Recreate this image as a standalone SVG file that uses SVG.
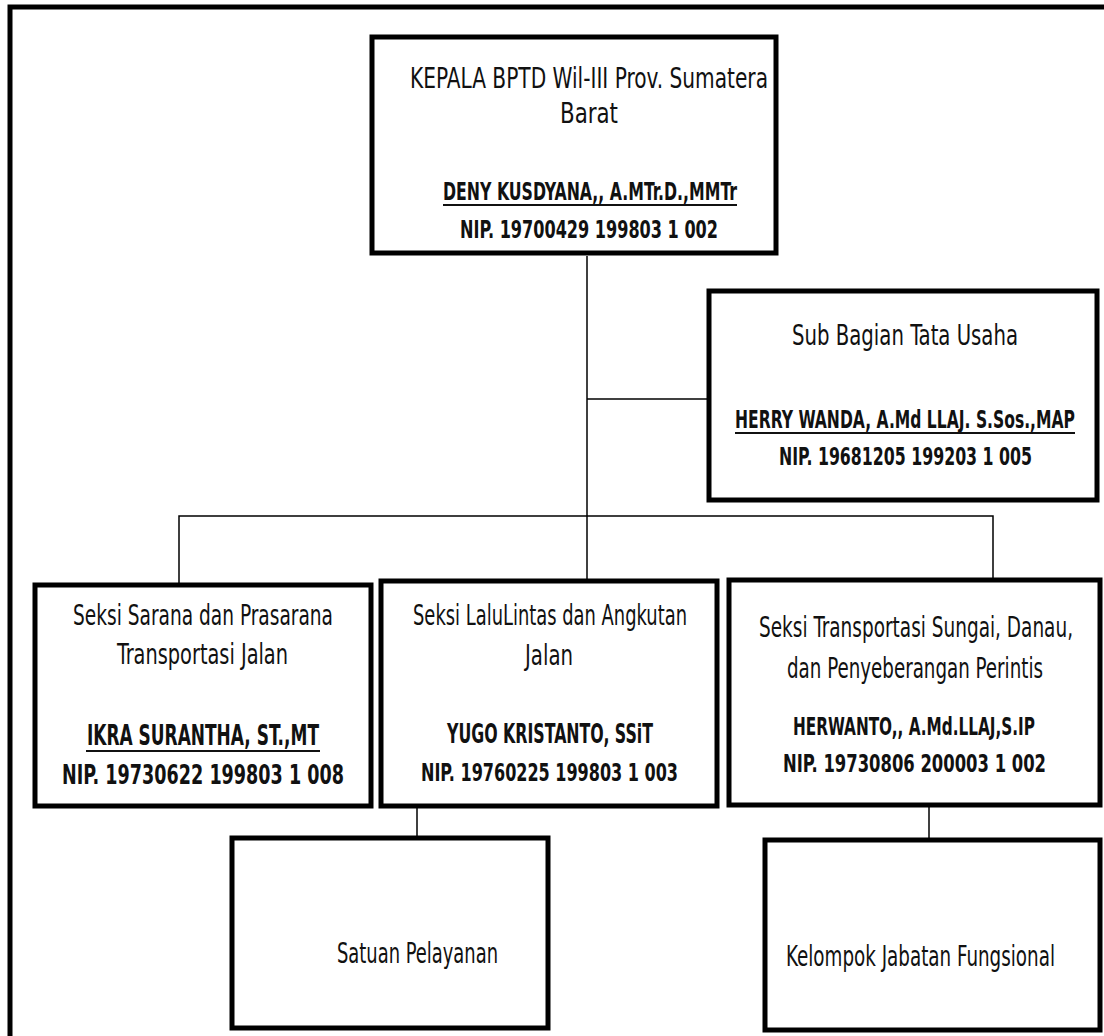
<svg xmlns="http://www.w3.org/2000/svg" width="1104" height="1036" viewBox="0 0 1104 1036">
<style>
.box{fill:#fff;stroke:#000;stroke-width:5}
.frame{fill:none;stroke:#000;stroke-width:5}
.ln{fill:none;stroke:#000;stroke-width:1.5}
.t{font-family:"Liberation Sans Narrow","DejaVu Sans Condensed","Liberation Sans",sans-serif;fill:#111}
.b{font-weight:bold}
.ul{fill:none;stroke:#111;stroke-width:2}
</style>
<rect x="0" y="0" width="1104" height="1036" fill="#fff"/>
<rect class="frame" x="10" y="7" width="1110" height="1050"/>
<g id="connectors">
<line class="ln" x1="587" y1="256" x2="587" y2="580"/>
<line class="ln" x1="587" y1="399" x2="709" y2="399"/>
<polyline class="ln" points="179,585 179,516 993,516 993,580"/>
<line class="ln" x1="417" y1="806" x2="417" y2="838"/>
<line class="ln" x1="929" y1="805" x2="929" y2="840"/>
</g>
<g id="kepala">
<rect class="box" x="372" y="37" width="404" height="216"/>
<text class="t" x="410" y="88" font-size="29" textLength="358" lengthAdjust="spacingAndGlyphs">KEPALA BPTD Wil-III Prov. Sumatera</text>
<text class="t" x="560" y="123" font-size="29" textLength="58" lengthAdjust="spacingAndGlyphs">Barat</text>
<text class="t b" x="443" y="200" font-size="24" textLength="294" lengthAdjust="spacingAndGlyphs">DENY KUSDYANA,, A.MTr.D.,MMTr</text>
<line class="ul" x1="443" y1="205" x2="737" y2="205"/>
<text class="t b" x="460" y="238" font-size="24" textLength="258" lengthAdjust="spacingAndGlyphs">NIP. 19700429 199803 1 002</text>
</g>
<g id="tatausaha">
<rect class="box" x="709" y="291" width="388" height="209"/>
<text class="t" x="792" y="345" font-size="29" textLength="226" lengthAdjust="spacingAndGlyphs">Sub Bagian Tata Usaha</text>
<text class="t b" x="735" y="428" font-size="24" textLength="340" lengthAdjust="spacingAndGlyphs">HERRY WANDA, A.Md LLAJ. S.Sos.,MAP</text>
<line class="ul" x1="735" y1="433" x2="1075" y2="433"/>
<text class="t b" x="779" y="465" font-size="24" textLength="253" lengthAdjust="spacingAndGlyphs">NIP. 19681205 199203 1 005</text>
</g>
<g id="seksi1">
<rect class="box" x="35" y="585" width="336" height="221"/>
<text class="t" x="73" y="625" font-size="29" textLength="260" lengthAdjust="spacingAndGlyphs">Seksi Sarana dan Prasarana</text>
<text class="t" x="117" y="664" font-size="29" textLength="171" lengthAdjust="spacingAndGlyphs">Transportasi Jalan</text>
<text class="t b" x="87" y="745" font-size="28" textLength="232" lengthAdjust="spacingAndGlyphs">IKRA SURANTHA, ST.,MT</text>
<line class="ul" x1="86" y1="751" x2="320" y2="751"/>
<text class="t b" x="62" y="784" font-size="27" textLength="282" lengthAdjust="spacingAndGlyphs">NIP. 19730622 199803 1 008</text>
</g>
<g id="seksi2">
<rect class="box" x="381" y="581" width="336" height="225"/>
<text class="t" x="413" y="625" font-size="29" textLength="274" lengthAdjust="spacingAndGlyphs">Seksi LaluLintas dan Angkutan</text>
<text class="t" x="525" y="665" font-size="29" textLength="48" lengthAdjust="spacingAndGlyphs">Jalan</text>
<text class="t b" x="447" y="743" font-size="26" textLength="206" lengthAdjust="spacingAndGlyphs">YUGO KRISTANTO, SSiT</text>
<text class="t b" x="421" y="781" font-size="25" textLength="257" lengthAdjust="spacingAndGlyphs">NIP. 19760225 199803 1 003</text>
</g>
<g id="seksi3">
<rect class="box" x="729" y="580" width="371" height="225"/>
<text class="t" x="759" y="637" font-size="29" textLength="314" lengthAdjust="spacingAndGlyphs">Seksi Transportasi Sungai, Danau,</text>
<text class="t" x="787" y="678" font-size="29" textLength="256" lengthAdjust="spacingAndGlyphs">dan Penyeberangan Perintis</text>
<text class="t b" x="793" y="735" font-size="24" textLength="242" lengthAdjust="spacingAndGlyphs">HERWANTO,, A.Md.LLAJ,S.IP</text>
<text class="t b" x="783" y="772" font-size="24" textLength="263" lengthAdjust="spacingAndGlyphs">NIP. 19730806 200003 1 002</text>
</g>
<g id="satuan">
<rect class="box" x="232" y="838" width="316" height="190"/>
<text class="t" x="337" y="963" font-size="28" textLength="161" lengthAdjust="spacingAndGlyphs">Satuan Pelayanan</text>
</g>
<g id="kelompok">
<rect class="box" x="765" y="840" width="335" height="190"/>
<text class="t" x="786" y="966" font-size="28" textLength="269" lengthAdjust="spacingAndGlyphs">Kelompok Jabatan Fungsional</text>
</g>
</svg>
